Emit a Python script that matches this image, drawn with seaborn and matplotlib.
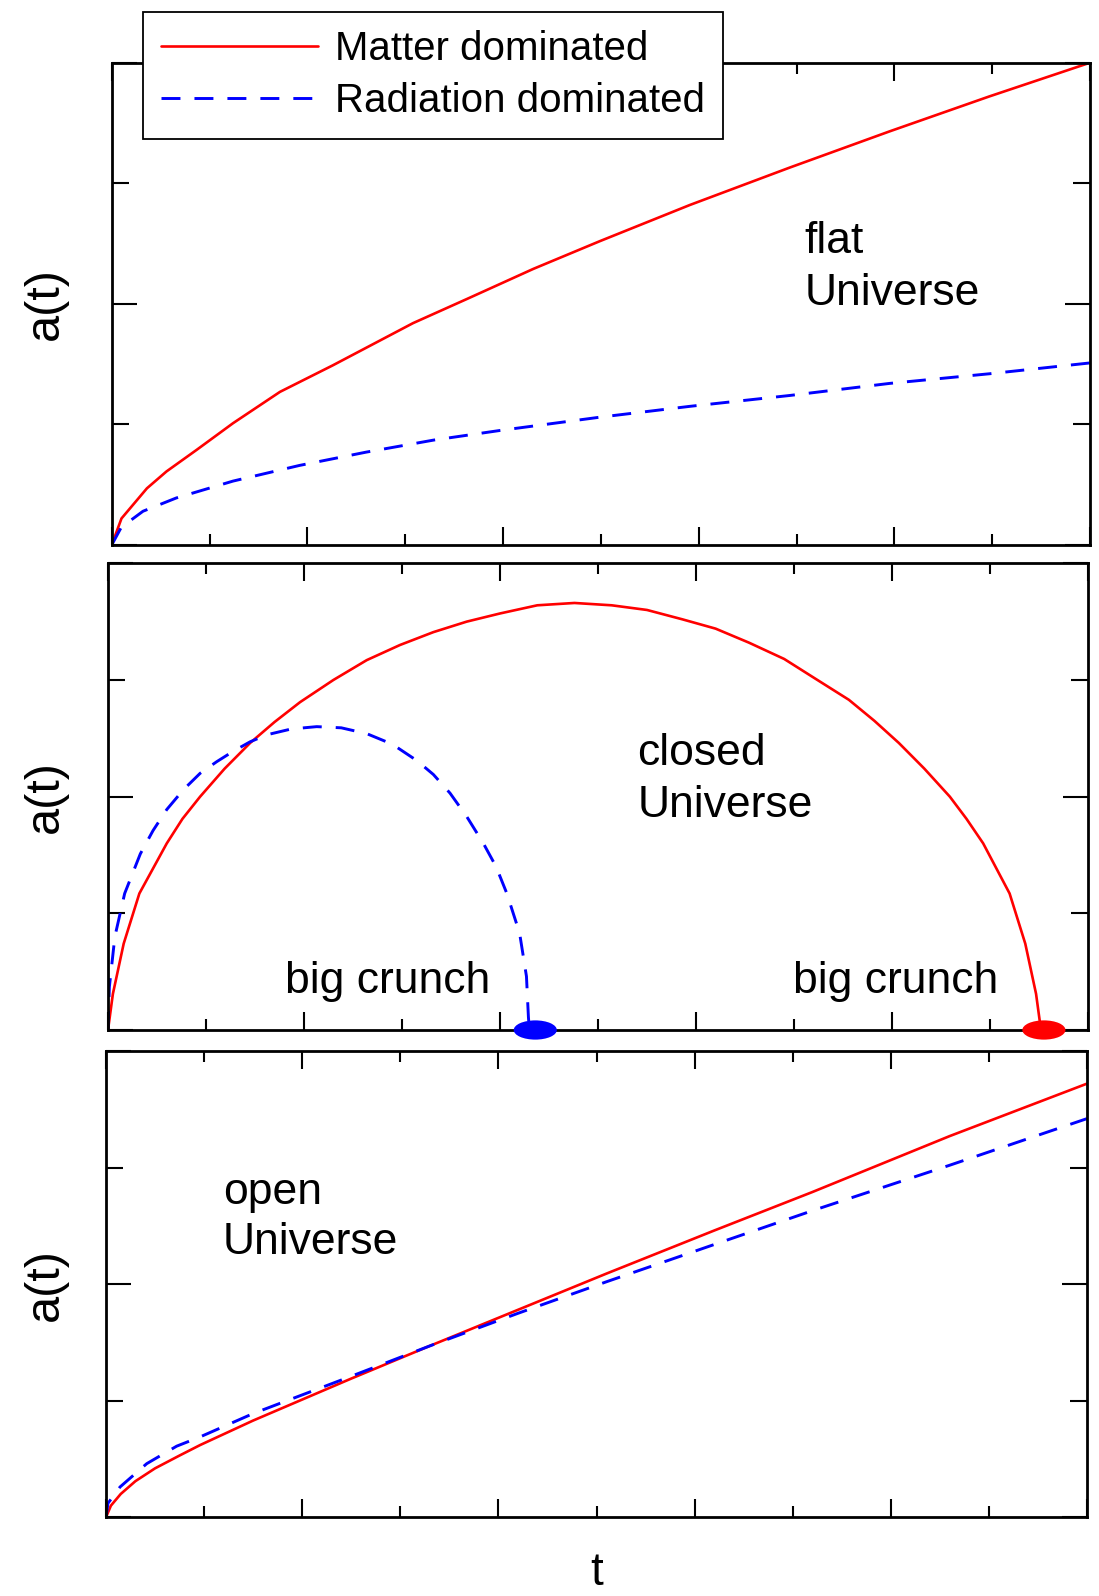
import numpy as np
import pandas as pd
import matplotlib
matplotlib.use("Agg")
import matplotlib.pyplot as plt
from matplotlib.ticker import MultipleLocator
from matplotlib.patches import Ellipse
import seaborn as sns

# ---------------- data ----------------
series_labels = ["Matter dominated", "Radiation dominated"]

# flat Universe
flat_matter_t = [0, 0.10, 0.36, 0.56, 0.87, 1.24, 1.72, 2.26, 3.08, 3.63, 4.31, 4.99, 5.91, 6.93, 7.95, 8.97, 10.0]
flat_matter_a = [0, 0.22, 0.47, 0.61, 0.79, 1.01, 1.27, 1.49, 1.84, 2.04, 2.29, 2.52, 2.82, 3.13, 3.43, 3.72, 4.0]
flat_rad_t = [0, 0.10, 0.22, 0.32, 0.66, 1.24, 1.92, 2.60, 3.29, 3.97, 4.99, 5.91, 6.93, 7.95, 8.97, 10.0]
flat_rad_a = [0, 0.15, 0.22, 0.28, 0.39, 0.53, 0.66, 0.77, 0.87, 0.95, 1.06, 1.15, 1.24, 1.34, 1.42, 1.51]

# closed Universe
closed_matter_t = [0, 0.05, 0.16, 0.32, 0.60, 0.76, 0.94, 1.19, 1.45, 1.70, 1.96, 2.30, 2.64, 2.98,
                   3.32, 3.66, 4.00, 4.38, 4.76, 5.14, 5.50, 5.86, 6.20, 6.54, 6.90, 7.22, 7.56,
                   7.82, 8.07, 8.33, 8.59, 8.76, 8.93, 9.20, 9.36, 9.47, 9.52]
closed_matter_a = [0, 0.31, 0.74, 1.17, 1.60, 1.81, 2.00, 2.24, 2.46, 2.64, 2.81, 3.00, 3.17, 3.30,
                   3.41, 3.50, 3.57, 3.64, 3.66, 3.64, 3.60, 3.52, 3.44, 3.32, 3.18, 3.01, 2.83,
                   2.65, 2.46, 2.24, 2.00, 1.81, 1.60, 1.17, 0.74, 0.31, 0]
closed_rad_t = [0, 0.014, 0.07, 0.17, 0.33, 0.46, 0.60, 0.77, 0.94, 1.11, 1.28, 1.45, 1.62, 1.87,
                2.13, 2.38, 2.64, 2.90, 3.15, 3.32, 3.49, 3.66, 3.83, 3.96, 4.07, 4.20, 4.27, 4.29, 4.30]
closed_rad_a = [0, 0.37, 0.80, 1.17, 1.51, 1.71, 1.89, 2.06, 2.20, 2.30, 2.39, 2.47, 2.53, 2.58,
                2.60, 2.59, 2.54, 2.45, 2.31, 2.19, 2.03, 1.83, 1.60, 1.40, 1.17, 0.83, 0.46, 0.11, 0]
crunch_t = [4.36, 9.55]          # big crunch markers (radiation, matter)

# open Universe
open_matter_t = [0, 0.05, 0.15, 0.30, 0.50, 0.75, 0.96, 1.5, 2.0, 2.5, 3.3, 4.2, 5.1, 6.2, 7.2, 8.6, 10.0]
open_matter_a = [0, 0.10, 0.20, 0.31, 0.42, 0.53, 0.62, 0.83, 1.01, 1.19, 1.47, 1.78, 2.09, 2.46, 2.79, 3.27, 3.72]
open_rad_t = [0, 0.02, 0.143, 0.415, 0.72, 0.96, 1.5, 2.0, 2.5, 3.3, 4.2, 5.1, 6.2, 7.2, 8.6, 10.0]
open_rad_a = [0, 0.12, 0.26, 0.46, 0.61, 0.69, 0.89, 1.05, 1.21, 1.47, 1.75, 2.02, 2.34, 2.63, 3.02, 3.42]

# ---------------- style ----------------
sns.set_style("white")
plt.rcParams["font.family"] = ["Liberation Sans", "DejaVu Sans"]
plt.rcParams["text.color"] = "black"
plt.rcParams["axes.labelcolor"] = "black"

RED = "#ff0000"
BLUE = "#0000ff"
LW_RED = 1.9
LW_BLUE = 2.1
DASH = (0, (6.5, 4.8))

W, H = 1099, 1596
fig = plt.figure(figsize=(W / 100, H / 100), dpi=100)

def rect(l, r, t, b):
    return [l / W, 1 - b / H, (r - l) / W, (b - t) / H]

ax1 = fig.add_axes(rect(111.7, 1090, 62.7, 545))
ax2 = fig.add_axes(rect(108, 1088, 563.3, 1030))
ax3 = fig.add_axes(rect(106, 1087, 1051, 1517.3))

panels = [
    (ax1, flat_matter_t, flat_matter_a, flat_rad_t, flat_rad_a),
    (ax2, closed_matter_t, closed_matter_a, closed_rad_t, closed_rad_a),
    (ax3, open_matter_t, open_matter_a, open_rad_t, open_rad_a),
]

for ax, mt, ma, rt, ra in panels:
    dm = pd.DataFrame({"t": mt, "a": ma})
    dr = pd.DataFrame({"t": rt, "a": ra})
    sns.lineplot(data=dm, x="t", y="a", ax=ax, color=RED, lw=LW_RED, sort=False,
                 estimator=None, label=series_labels[0])
    sns.lineplot(data=dr, x="t", y="a", ax=ax, color=BLUE, lw=LW_BLUE, sort=False,
                 estimator=None, linestyle=DASH, label=series_labels[1])
    ax.set_xlim(0, 10)
    ax.set_ylim(0, 4)
    ax.xaxis.set_major_locator(MultipleLocator(2))
    ax.xaxis.set_minor_locator(MultipleLocator(1))
    ax.yaxis.set_major_locator(MultipleLocator(2))
    ax.yaxis.set_minor_locator(MultipleLocator(1))
    ax.tick_params(which="both", direction="in", top=True, right=True, bottom=True, left=True,
                   labelbottom=False, labelleft=False, width=1.5, color="black")
    ax.tick_params(axis="x", which="major", length=13)
    ax.tick_params(axis="x", which="minor", length=8)
    ax.tick_params(axis="y", which="major", length=18)
    ax.tick_params(axis="y", which="minor", length=12)
    for s in ax.spines.values():
        s.set_linewidth(2.0)
        s.set_color("black")
    ax.set_xlabel("")
    ax.set_ylabel("a(t)", fontsize=35, color="black")
    leg = ax.get_legend()
    if leg is not None:
        leg.remove()

ax1.yaxis.set_label_coords(-0.045, 0.5)
ax2.yaxis.set_label_coords(-0.041, 0.5)
ax3.yaxis.set_label_coords(-0.039, 0.5)

ax3.set_xlabel("t", fontsize=33, color="black")
ax3.xaxis.set_label_coords(0.5, -0.072)

# big crunch markers
for tc, col in zip(crunch_t, [BLUE, RED]):
    ax2.add_patch(Ellipse((tc, 0), 0.44, 0.165, facecolor=col, edgecolor="none",
                          clip_on=False, zorder=5))

# annotations
FS = 32
ax1.text(7.08, 2.42, "flat", fontsize=FS, va="baseline", ha="left", color="black")
ax1.text(7.08, 1.99, "Universe", fontsize=FS, va="baseline", ha="left", color="black")
ax2.text(5.40, 2.27, "closed", fontsize=FS, va="baseline", ha="left", color="black")
ax2.text(5.40, 1.825, "Universe", fontsize=FS, va="baseline", ha="left", color="black")
ax2.text(1.81, 0.317, "big crunch", fontsize=FS, va="baseline", ha="left", color="black")
ax2.text(6.99, 0.317, "big crunch", fontsize=FS, va="baseline", ha="left", color="black")
ax3.text(1.19, 2.69, "open", fontsize=FS, va="baseline", ha="left", color="black")
ax3.text(1.19, 2.26, "Universe", fontsize=FS, va="baseline", ha="left", color="black")

# legend
handles = ax1.get_lines()[:2]
leg = fig.legend(handles, series_labels, loc="upper left",
                 bbox_to_anchor=(142.5 / W, 1 - 12.2 / H), borderaxespad=0,
                 fontsize=29, frameon=True, fancybox=False, shadow=False,
                 edgecolor="black", facecolor="white", framealpha=1,
                 borderpad=0.45, labelspacing=0.35, handlelength=3.9, handletextpad=0.43)
leg.get_frame().set_linewidth(1.3)
for txt in leg.get_texts():
    txt.set_color("black")

fig.savefig("out.png", dpi=100)
